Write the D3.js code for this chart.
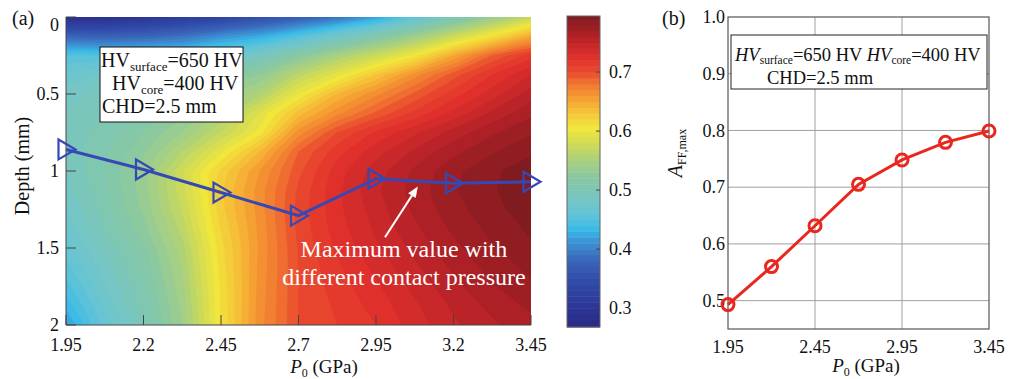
<!DOCTYPE html>
<html><head><meta charset="utf-8">
<script src="https://cdn.jsdelivr.net/npm/d3@7"></script>
<style>
body{margin:0;background:#fff}
svg{display:block}
text{font-family:"Liberation Serif","Times New Roman",serif;fill:#111}
</style>
</head><body>
<svg id="c" width="1012" height="379"></svg>
<script>
// ---------------- data ----------------
const pressures = [1.95, 2.2, 2.45, 2.7, 2.95, 3.2, 3.45];
const peakDepth = [0.86, 0.99, 1.14, 1.29, 1.05, 1.08, 1.07];
const affMax    = [0.493, 0.56, 0.632, 0.705, 0.748, 0.779, 0.799];

const gridP     = [1.95, 2.075, 2.2, 2.325, 2.45, 2.575, 2.7, 2.825, 2.95, 3.075, 3.2, 3.325, 3.45];
const gridDepth = [0, 0.125, 0.25, 0.375, 0.5, 0.625, 0.75, 0.875, 1.0, 1.125, 1.25, 1.375, 1.5, 1.625, 1.75, 1.875, 2.0];
// A_FF field, one row per depth, one column per P0
const field = [
 [.285,.29,.30,.315,.33,.35,.37,.39,.42,.46,.50,.535,.57],
 [.38,.375,.38,.39,.41,.425,.45,.48,.51,.54,.575,.61,.65],
 [.45,.45,.45,.455,.47,.49,.52,.55,.575,.605,.65,.69,.715],
 [.475,.48,.485,.49,.51,.53,.565,.595,.63,.665,.695,.72,.74],
 [.485,.495,.505,.515,.538,.555,.60,.64,.667,.692,.715,.735,.755],
 [.49,.50,.512,.527,.552,.59,.635,.667,.692,.713,.733,.752,.767],
 [.493,.505,.52,.54,.57,.605,.665,.70,.722,.738,.754,.768,.779],
 [.493,.508,.528,.56,.598,.64,.69,.716,.736,.752,.767,.779,.788],
 [.49,.51,.535,.578,.623,.66,.697,.725,.745,.762,.777,.788,.796],
 [.486,.508,.535,.576,.628,.665,.702,.728,.748,.764,.779,.789,.797],
 [.48,.505,.532,.571,.626,.665,.704,.727,.745,.762,.776,.787,.795],
 [.473,.50,.526,.564,.621,.663,.703,.725,.742,.758,.772,.783,.792],
 [.465,.493,.518,.556,.616,.662,.701,.722,.738,.753,.767,.779,.788],
 [.456,.486,.512,.551,.614,.663,.70,.718,.733,.748,.762,.774,.783],
 [.446,.479,.508,.547,.612,.664,.70,.715,.728,.743,.757,.769,.778],
 [.433,.472,.504,.543,.611,.665,.70,.712,.724,.738,.752,.763,.772],
 [.418,.465,.50,.54,.61,.666,.70,.71,.72,.735,.748,.758,.766]
];

const xTicksA = [1.95, 2.2, 2.45, 2.7, 2.95, 3.2, 3.45];
const yTicksA = [0, 0.5, 1, 1.5, 2];
const cbTicks = [0.3, 0.4, 0.5, 0.6, 0.7];
const xTicksB = [1.95, 2.45, 2.95, 3.45];
const yTicksB = [0.5, 0.6, 0.7, 0.8, 0.9, 1.0];

const cmapStops  = [0.268,0.30,0.34,0.38,0.41,0.435,0.46,0.49,0.52,0.55,0.58,0.605,0.63,0.655,0.68,0.70,0.725,0.745,0.765,0.795];
const cmapColors = ["#2a2a84","#2c3594","#3048a6","#3a63b8","#3c8ed2","#3cbbe8","#64c4d6","#78c6c0","#88c8a4","#a8d080","#d2dc54","#f0e63c","#f5c83a","#f5a032","#f07832","#ea4a2e","#e0302c","#c8282a","#ac2026","#801c20"];
const cbRange = [0.268, 0.795];

// ---------------- setup ----------------
const svg = d3.select("#c");
svg.append("rect").attr("width",1012).attr("height",379).attr("fill","#fff");
const cmap = d3.scaleLinear().domain(cmapStops).range(cmapColors).interpolate(d3.interpolateRgb).clamp(true);

// ---------------- panel (a) ----------------
const xA = d3.scaleLinear().domain([1.95, 3.45]).range([66, 531]);
const yA = d3.scaleLinear().domain([0, 2]).range([17, 325]);

svg.append("defs").append("clipPath").attr("id","clipA")
  .append("rect").attr("x",xA(1.95)).attr("y",yA(0)).attr("width",xA(3.45)-xA(1.95)).attr("height",yA(2)-yA(0));

const n = gridP.length, m = gridDepth.length;
const levels = d3.range(0.26, 0.80, 0.01);
const contours = d3.contours().size([n, m]).thresholds(levels)(field.flat());
const gx = d3.scaleLinear().domain([0.5, n - 0.5]).range([xA(gridP[0]), xA(gridP[n-1])]);
const gy = d3.scaleLinear().domain([0.5, m - 0.5]).range([yA(gridDepth[0]), yA(gridDepth[m-1])]);
const proj = d3.geoTransform({point(x, y){ this.stream.point(gx(x), gy(y)); }});
const cpath = d3.geoPath(proj);
svg.append("g").attr("clip-path","url(#clipA)")
  .selectAll("path").data(contours).join("path")
  .attr("d", cpath)
  .attr("fill", d => cmap(d.value + 0.005))
  .attr("stroke", d => cmap(d.value + 0.005))
  .attr("stroke-width", 0.3);

// axes (a)
const axA = svg.append("g").attr("stroke","#444").attr("stroke-width",1);
axA.append("line").attr("x1",xA(1.95)).attr("x2",xA(1.95)).attr("y1",yA(0)).attr("y2",yA(2));
axA.append("line").attr("x1",xA(1.95)).attr("x2",xA(3.45)).attr("y1",yA(2)).attr("y2",yA(2));
axA.selectAll(".tx").data(xTicksA).join("line")
  .attr("x1",d=>xA(d)).attr("x2",d=>xA(d)).attr("y1",yA(2)).attr("y2",yA(2)-10);
axA.selectAll(".ty").data(yTicksA).join("line")
  .attr("x1",xA(1.95)).attr("x2",xA(1.95)+10).attr("y1",d=>yA(d)).attr("y2",d=>yA(d));

svg.append("g").selectAll("text").data(xTicksA).join("text")
  .attr("x",d=>xA(d)).attr("y",351).attr("text-anchor","middle").attr("font-size",18)
  .text(d=>d3.format("")(d));
svg.append("g").selectAll("text").data(yTicksA).join("text")
  .attr("x",59).attr("y",d=>yA(d) + (d===0 ? 8 : 0)).attr("dy","0.35em").attr("text-anchor","end").attr("font-size",18)
  .text(d=>d3.format("")(d));

// titles (a)
const xtA = svg.append("text").attr("x",324).attr("y",373).attr("text-anchor","middle").attr("font-size",19);
xtA.append("tspan").attr("font-style","italic").text("P");
xtA.append("tspan").attr("font-size",12).attr("dy",4).text("0");
xtA.append("tspan").attr("dy",-4).text(" (GPa)");
svg.append("text").attr("transform","translate(29,166) rotate(-90)").attr("text-anchor","middle")
  .attr("font-size",20).text("Depth (mm)");
svg.append("text").attr("x",12).attr("y",25).attr("font-size",20).text("(a)");

// info box (a)
svg.append("rect").attr("x",100).attr("y",47).attr("width",143).attr("height",75)
  .attr("fill","#fff").attr("stroke","#111").attr("stroke-width",1);
const l1 = svg.append("text").attr("x",101).attr("y",67).attr("font-size",20);
l1.append("tspan").text("HV");
l1.append("tspan").attr("font-size",13).attr("dy",4).text("surface");
l1.append("tspan").attr("dy",-4).text("=650 HV");
const l2 = svg.append("text").attr("x",112).attr("y",90).attr("font-size",20);
l2.append("tspan").text("HV");
l2.append("tspan").attr("font-size",13).attr("dy",4).text("core");
l2.append("tspan").attr("dy",-4).text("=400 HV");
svg.append("text").attr("x",102).attr("y",113).attr("font-size",20).text("CHD=2.5 mm");

// max-depth line
const peaks = pressures.map((p,i)=>({p, d: peakDepth[i]}));
svg.append("path").datum(peaks)
  .attr("d", d3.line().x(d=>xA(d.p)).y(d=>yA(d.d)))
  .attr("fill","none").attr("stroke","#3648b4").attr("stroke-width",3);
svg.append("g").selectAll("path").data(peaks).join("path")
  .attr("transform", d=>`translate(${xA(d.p)},${yA(d.d)})`)
  .attr("d","M-7.5,-10L-7.5,10L9.5,0Z")
  .attr("fill","none").attr("stroke","#3648b4").attr("stroke-width",2.2).attr("stroke-linejoin","miter");

// annotation arrow + text (data coords)
const arrowFrom = [2.979, 1.43], arrowTo = [3.085, 1.10];
{
  const x1 = xA(arrowFrom[0]), y1 = yA(arrowFrom[1]), x2 = xA(arrowTo[0]), y2 = yA(arrowTo[1]);
  const ang = Math.atan2(y2-y1, x2-x1), L = 11, W = 4.5;
  const bx = x2 - L*Math.cos(ang), by = y2 - L*Math.sin(ang);
  svg.append("line").attr("x1",x1).attr("y1",y1).attr("x2",bx).attr("y2",by)
    .attr("stroke","#fff").attr("stroke-width",2);
  svg.append("path").attr("d",`M${x2},${y2}L${bx - W*Math.sin(ang)},${by + W*Math.cos(ang)}L${bx + W*Math.sin(ang)},${by - W*Math.cos(ang)}Z`)
    .attr("fill","#fff");
}
svg.append("text").attr("x",xA(3.04)).attr("y",yA(1.56)).attr("text-anchor","middle").attr("font-size",24)
  .style("fill","#fff").text("Maximum value with");
svg.append("text").attr("x",xA(3.04)).attr("y",yA(1.74)).attr("text-anchor","middle").attr("font-size",24)
  .style("fill","#fff").text("different contact pressure");

// ---------------- colorbar ----------------
const cb = d3.scaleLinear().domain(cbRange).range([327, 16]);
const cbX = 567, cbW = 33;
const cbBands = d3.range(0.26, 0.80, 0.01).filter(t => t + 0.01 > cbRange[0] && t < cbRange[1]);
svg.append("g").selectAll("rect").data(cbBands).join("rect")
  .attr("x",cbX).attr("width",cbW)
  .attr("y",t=>cb(Math.min(t+0.01, cbRange[1])))
  .attr("height",t=>cb(Math.max(t, cbRange[0])) - cb(Math.min(t+0.01, cbRange[1])) + 0.5)
  .attr("fill",t=>cmap(t+0.005));
svg.append("rect").attr("x",cbX).attr("y",cb(cbRange[1])).attr("width",cbW).attr("height",cb(cbRange[0])-cb(cbRange[1]))
  .attr("fill","none").attr("stroke","#666").attr("stroke-width",1);
svg.append("g").selectAll("line").data(cbTicks).join("line")
  .attr("x1",cbX+cbW).attr("x2",cbX+cbW-4).attr("y1",d=>cb(d)).attr("y2",d=>cb(d))
  .attr("stroke","#444");
svg.append("g").selectAll("text").data(cbTicks).join("text")
  .attr("x",609).attr("y",d=>cb(d)).attr("dy","0.35em").attr("font-size",18)
  .text(d=>d3.format(".1f")(d));

// ---------------- panel (b) ----------------
const xB = d3.scaleLinear().domain([1.95, 3.45]).range([728, 989]);
const yB = d3.scaleLinear().domain([0.45, 1.0]).range([329, 17]);
const gB = svg.append("g");
gB.selectAll(".gv").data(xTicksB.slice(1, -1)).join("line")
  .attr("x1",d=>xB(d)).attr("x2",d=>xB(d)).attr("y1",yB(0.45)).attr("y2",yB(1.0))
  .attr("stroke","#a0a0a0").attr("stroke-width",1);
gB.selectAll(".gh").data(yTicksB.slice(0, -1)).join("line")
  .attr("x1",xB(1.95)).attr("x2",xB(3.45)).attr("y1",d=>yB(d)).attr("y2",d=>yB(d))
  .attr("stroke","#a0a0a0").attr("stroke-width",1);
gB.append("rect").attr("x",xB(1.95)).attr("y",yB(1.0)).attr("width",xB(3.45)-xB(1.95)).attr("height",yB(0.45)-yB(1.0))
  .attr("fill","none").attr("stroke","#555").attr("stroke-width",1.2);

gB.selectAll(".xl").data(xTicksB).join("text")
  .attr("x",d=>xB(d)).attr("y",353).attr("text-anchor","middle").attr("font-size",18)
  .text(d=>d3.format("")(d));
gB.selectAll(".yl").data(yTicksB).join("text")
  .attr("x",725).attr("y",d=>yB(d)).attr("dy","0.35em").attr("text-anchor","end").attr("font-size",18)
  .text(d=>d3.format(".1f")(d));

// info box (b)
gB.append("rect").attr("x",731).attr("y",35).attr("width",256).attr("height",54)
  .attr("fill","#fff").attr("stroke","#222").attr("stroke-width",1);
const b1 = gB.append("text").attr("x",735).attr("y",61).attr("font-size",18.5);
b1.append("tspan").attr("font-style","italic").text("HV");
b1.append("tspan").attr("font-size",11.5).attr("dy",3).text("surface");
b1.append("tspan").attr("dy",-3).text("=650 HV ");
b1.append("tspan").attr("font-style","italic").text("HV");
b1.append("tspan").attr("font-size",11.5).attr("dy",3).text("core");
b1.append("tspan").attr("dy",-3).text("=400 HV");
gB.append("text").attr("x",767).attr("y",84).attr("font-size",18.5).text("CHD=2.5 mm");

// line + markers
const pts = pressures.map((p,i)=>({p, a: affMax[i]}));
gB.append("path").datum(pts)
  .attr("d", d3.line().x(d=>xB(d.p)).y(d=>yB(d.a)))
  .attr("fill","none").attr("stroke","#e8281e").attr("stroke-width",3);
gB.selectAll("circle").data(pts).join("circle")
  .attr("cx",d=>xB(d.p)).attr("cy",d=>yB(d.a)).attr("r",6)
  .attr("fill","none").attr("stroke","#e8281e").attr("stroke-width",3);

// titles (b)
const xtB = svg.append("text").attr("x",866).attr("y",372).attr("text-anchor","middle").attr("font-size",19);
xtB.append("tspan").attr("font-style","italic").text("P");
xtB.append("tspan").attr("font-size",12).attr("dy",4).text("0");
xtB.append("tspan").attr("dy",-4).text(" (GPa)");
const ytB = svg.append("text").attr("transform","translate(682,153) rotate(-90)").attr("text-anchor","middle").attr("font-size",20);
ytB.append("tspan").attr("font-style","italic").text("A");
ytB.append("tspan").attr("font-size",12).attr("dy",4).text("FF,max");
svg.append("text").attr("x",662).attr("y",25).attr("font-size",20).text("(b)");
</script>
</body></html>
